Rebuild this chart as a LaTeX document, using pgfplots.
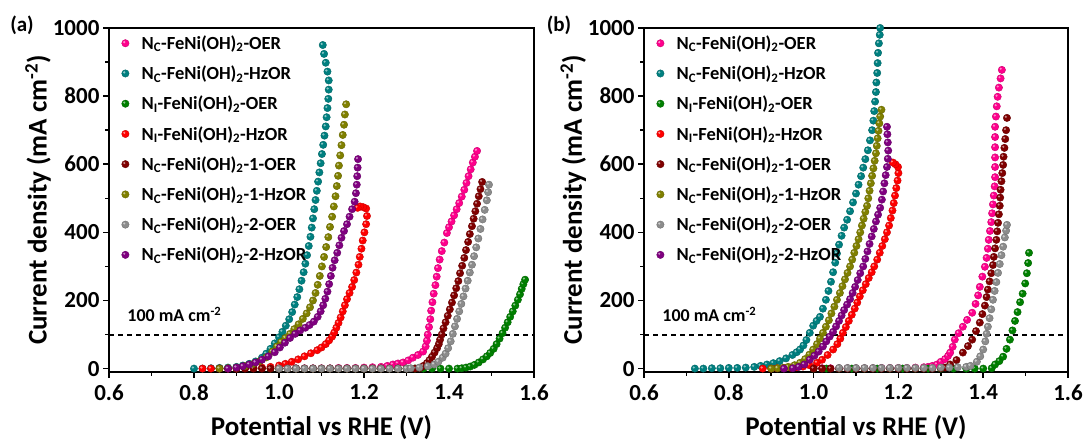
\documentclass[border=0pt]{standalone}
\usepackage{fontspec}
\setmainfont{Carlito}
\usepackage{pgfplots}
\pgfplotsset{compat=1.18}
\definecolor{cpink}{RGB}{255,0,140}
\definecolor{cteal}{RGB}{0,128,128}
\definecolor{cgreen}{RGB}{0,128,0}
\definecolor{cred}{RGB}{255,0,0}
\definecolor{cdred}{RGB}{128,0,0}
\definecolor{colive}{RGB}{128,128,0}
\definecolor{cgrey}{RGB}{140,140,140}
\definecolor{cpurple}{RGB}{128,0,128}
\pgfdeclareplotmark{sball}{%
  \pgfpathcircle{\pgfpointorigin}{\pgfplotmarksize}%
  \pgfusepathqfillstroke
  \pgfscope
  \pgfsetfillcolor{white}\pgfsetfillopacity{0.55}%
  \pgfpathcircle{\pgfpoint{-0.3\pgfplotmarksize}{0.3\pgfplotmarksize}}{0.32\pgfplotmarksize}%
  \pgfusepathqfill
  \endpgfscope
}
\newcommand\tickfont{\fontsize{23}{27}\selectfont\bfseries}
\newcommand\labfont{\fontsize{27}{32}\selectfont\bfseries}
\newcommand\legfont{\fontsize{18.5}{22}\selectfont\bfseries}
\pgfplotsset{
  myax/.style={
    scale only axis, width=425pt, height=344pt,
    xmin=0.6, xmax=1.6, ymin=-10, ymax=1000,
    xtick={0.6,0.8,1.0,1.2,1.4,1.6}, minor x tick num=1,
    ytick={0,200,400,600,800,1000}, minor y tick num=1,
    tick align=outside, xtick pos=left, ytick pos=left,
    major tick length=6pt, minor tick length=4pt,
    axis line style={line width=1.6pt},
    every tick/.style={line width=1.5pt, black},
    xticklabel style={yshift=-3pt, /pgf/number format/fixed, /pgf/number format/fixed zerofill, /pgf/number format/precision=1},
    yticklabel style={/pgf/number format/fixed, /pgf/number format/1000 sep={}},
    /pgf/number format/assume math mode=true,
    ticklabel style={font=\tickfont},
    xlabel={Potential vs RHE (V)},
    ylabel={Current density (mA cm\textsuperscript{-2})},
    label style={font=\labfont},
    xlabel style={at={(axis description cs:0.5,-0.16)}, anchor=center},
    ylabel style={at={(axis description cs:-0.167,0.5)}, anchor=center},
    legend style={at={(0.0,0.99)}, anchor=north west, xshift=9pt, draw=none, fill=none,
      font=\legfont, row sep=11pt, legend cell align=left},
    legend cell align=left,
    legend image code/.code={\draw[#1] plot coordinates {(0pt,0pt)}; \path (-4pt,0pt) (14pt,0pt);},
    every axis plot/.append style={only marks, mark=sball, mark size=3.7pt},
  },
  pk/.style={mark options={fill=cpink, draw=cpink!80!black, line width=0.4pt}},
  tl/.style={mark options={fill=cteal, draw=cteal!80!black, line width=0.4pt}},
  gn/.style={mark options={fill=cgreen, draw=cgreen!80!black, line width=0.4pt}},
  rd/.style={mark options={fill=cred, draw=cred!80!black, line width=0.4pt}},
  dr/.style={mark options={fill=cdred, draw=cdred!80!black, line width=0.4pt}},
  ol/.style={mark options={fill=colive, draw=colive!80!black, line width=0.4pt}},
  gy/.style={mark options={fill=cgrey, draw=cgrey!80!black, line width=0.4pt}},
  pu/.style={mark options={fill=cpurple, draw=cpurple!80!black, line width=0.4pt}},
  dline/.style={sharp plot, no marks, black, dash pattern=on 5pt off 4pt, line width=2pt, forget plot},
}
\begin{document}
\begin{tikzpicture}
\useasboundingbox (0,0) rectangle (1087pt,441pt);
\node[font=\fontsize{21}{25}\selectfont\bfseries] at (22pt,416pt) {(a)};
\node[font=\fontsize{21}{25}\selectfont\bfseries] at (559pt,416pt) {(b)};
% ---------------- panel (a)
\begin{axis}[myax, at={(109pt,69pt)}, anchor=south west]
\addplot[pk] coordinates {(1.02,1)(1.04,1)(1.06,1)(1.08,1)(1.10,1)(1.12,1)(1.14,2)(1.16,2)(1.18,2)(1.20,3)(1.22,4)(1.24,5)(1.255,8)(1.268,12)(1.28,15)(1.292,18)(1.304,24)(1.315,32)(1.327,40)(1.339,50)(1.345,65)(1.348,82)(1.350,100)(1.353,122)(1.356,145)(1.358,170)(1.361,195)(1.364,220)(1.368,245)(1.371,270)(1.374,295)(1.378,320)(1.383,345)(1.389,370)(1.395,398)(1.400,415)(1.406,432)(1.412,450)(1.418,468)(1.424,486)(1.430,505)(1.436,525)(1.441,545)(1.446,565)(1.451,585)(1.456,605)(1.461,622)(1.466,639)};
\addlegendentry{N\textsubscript{C}-FeNi(OH)\textsubscript{2}-OER}
\addplot[tl] coordinates {(0.80,0)(0.82,0)(0.84,1)(0.86,2)(0.88,3)(0.90,5)(0.915,9)(0.93,14)(0.945,21)(0.96,32)(0.97,44)(0.98,58)(0.99,74)(1.0,92)(1.008,108)(1.016,126)(1.024,145)(1.031,166)(1.037,188)(1.043,210)(1.048,233)(1.053,258)(1.058,283)(1.062,308)(1.066,333)(1.07,360)(1.074,387)(1.077,414)(1.080,441)(1.083,468)(1.086,495)(1.089,522)(1.092,549)(1.095,576)(1.098,603)(1.101,630)(1.104,657)(1.107,684)(1.110,711)(1.112,738)(1.114,765)(1.116,792)(1.117,819)(1.117,846)(1.114,872)(1.110,898)(1.106,924)(1.103,950)};
\addlegendentry{N\textsubscript{C}-FeNi(OH)\textsubscript{2}-HzOR}
\addplot[gn] coordinates {(0.98,0)(1.00,0)(1.02,0)(1.04,0)(1.06,0)(1.08,0)(1.10,0)(1.12,0)(1.14,0)(1.16,0)(1.18,0)(1.20,0)(1.22,0)(1.24,0)(1.26,0)(1.28,0)(1.30,0)(1.32,0)(1.34,0)(1.36,0)(1.38,0)(1.40,0)(1.42,0)(1.43,1)(1.44,3)(1.45,6)(1.46,11)(1.47,18)(1.48,27)(1.489,36)(1.497,46)(1.505,58)(1.512,72)(1.519,88)(1.526,104)(1.532,120)(1.538,136)(1.544,152)(1.550,168)(1.556,185)(1.562,202)(1.567,218)(1.571,234)(1.575,248)(1.579,261)};
\addlegendentry{N\textsubscript{I}-FeNi(OH)\textsubscript{2}-OER}
\addplot[rd] coordinates {(0.82,0)(0.84,0)(0.86,0)(0.88,0)(0.90,0)(0.92,1)(0.94,2)(0.96,3)(0.98,5)(1.0,9)(1.015,14)(1.03,20)(1.045,27)(1.06,36)(1.075,45)(1.09,54)(1.10,62)(1.11,72)(1.118,83)(1.125,94)(1.13,106)(1.135,120)(1.14,134)(1.145,150)(1.15,168)(1.155,186)(1.16,204)(1.166,222)(1.172,240)(1.177,260)(1.182,282)(1.187,305)(1.19,328)(1.194,352)(1.197,376)(1.201,400)(1.205,424)(1.207,448)(1.205,470)(1.198,474)(1.191,476)(1.185,472)};
\addlegendentry{N\textsubscript{I}-FeNi(OH)\textsubscript{2}-HzOR}
\addplot[dr] coordinates {(0.86,0)(0.88,0)(0.90,0)(0.92,0)(0.94,0)(0.96,0)(0.98,0)(1.00,0)(1.02,0)(1.04,0)(1.06,0)(1.08,0)(1.10,0)(1.12,0)(1.14,0)(1.16,0)(1.18,0)(1.20,0)(1.22,0)(1.24,0)(1.26,0)(1.28,0)(1.30,0)(1.32,0)(1.332,2)(1.34,8)(1.348,16)(1.354,25)(1.36,35)(1.366,47)(1.372,60)(1.376,72)(1.379,85)(1.383,100)(1.387,118)(1.392,136)(1.397,155)(1.402,174)(1.407,194)(1.412,215)(1.417,236)(1.422,257)(1.426,280)(1.431,302)(1.436,325)(1.440,348)(1.445,372)(1.449,395)(1.454,418)(1.458,440)(1.462,462)(1.466,484)(1.470,506)(1.474,527)(1.478,548)};
\addlegendentry{N\textsubscript{C}-FeNi(OH)\textsubscript{2}-1-OER}
\addplot[ol] coordinates {(0.86,0)(0.88,1)(0.90,3)(0.92,7)(0.94,14)(0.955,22)(0.97,33)(0.984,50)(0.995,65)(1.005,78)(1.015,90)(1.026,102)(1.036,116)(1.046,130)(1.056,146)(1.065,162)(1.073,180)(1.08,200)(1.086,222)(1.091,246)(1.096,272)(1.101,300)(1.106,328)(1.111,357)(1.116,386)(1.120,416)(1.125,446)(1.129,476)(1.133,506)(1.136,536)(1.139,566)(1.141,596)(1.144,626)(1.147,656)(1.150,686)(1.153,716)(1.155,746)(1.158,776)};
\addlegendentry{N\textsubscript{C}-FeNi(OH)\textsubscript{2}-1-HzOR}
\addplot[gy] coordinates {(1.00,0)(1.02,0)(1.04,0)(1.06,0)(1.08,0)(1.10,0)(1.12,0)(1.14,0)(1.16,0)(1.18,0)(1.20,0)(1.22,0)(1.24,0)(1.26,0)(1.28,0)(1.30,0)(1.31,1)(1.33,3)(1.35,7)(1.365,12)(1.375,20)(1.385,32)(1.392,44)(1.398,60)(1.404,80)(1.409,102)(1.414,124)(1.419,146)(1.424,168)(1.429,190)(1.434,212)(1.439,235)(1.444,258)(1.449,282)(1.454,305)(1.459,330)(1.464,356)(1.469,382)(1.474,410)(1.479,438)(1.484,466)(1.489,494)(1.492,518)(1.494,540)};
\addlegendentry{N\textsubscript{C}-FeNi(OH)\textsubscript{2}-2-OER}
\addplot[pu] coordinates {(0.88,0)(0.90,3)(0.915,7)(0.93,12)(0.945,18)(0.96,26)(0.975,36)(0.99,48)(1.002,62)(1.014,76)(1.026,90)(1.038,102)(1.05,112)(1.062,120)(1.072,128)(1.082,138)(1.091,152)(1.098,168)(1.104,186)(1.109,205)(1.114,226)(1.118,248)(1.122,272)(1.126,296)(1.131,318)(1.137,340)(1.142,362)(1.147,384)(1.153,404)(1.160,424)(1.166,446)(1.172,468)(1.178,490)(1.181,515)(1.183,540)(1.184,565)(1.185,590)(1.186,615)};
\addlegendentry{N\textsubscript{C}-FeNi(OH)\textsubscript{2}-2-HzOR}
\addplot[dline] coordinates {(0.6,100)(1.6,100)};
\node[anchor=west, font=\fontsize{18}{22}\selectfont\bfseries] at (axis cs:0.635,158) {100 mA cm\textsuperscript{-2}};
\end{axis}
% ---------------- panel (b)
\begin{axis}[myax, at={(644pt,69pt)}, anchor=south west, width=424pt]
\addplot[pk] coordinates {(1.00,1)(1.02,1)(1.04,1)(1.06,1)(1.08,1)(1.10,1)(1.12,1)(1.14,1)(1.16,2)(1.18,2)(1.20,2)(1.22,2)(1.24,3)(1.26,4)(1.27,5)(1.28,8)(1.291,12)(1.30,20)(1.31,28)(1.317,37)(1.322,47)(1.328,64)(1.333,85)(1.342,104)(1.352,123)(1.362,143)(1.374,164)(1.382,190)(1.388,215)(1.392,240)(1.398,270)(1.404,299)(1.408,325)(1.411,352)(1.413,378)(1.416,404)(1.419,430)(1.421,456)(1.423,482)(1.425,508)(1.427,535)(1.428,562)(1.428,592)(1.428,620)(1.428,650)(1.428,680)(1.428,710)(1.430,740)(1.432,770)(1.434,798)(1.437,825)(1.441,852)(1.444,877)};
\addlegendentry{N\textsubscript{C}-FeNi(OH)\textsubscript{2}-OER}
\addplot[tl] coordinates {(0.72,0)(0.74,0)(0.76,1)(0.78,1)(0.80,2)(0.82,2)(0.84,3)(0.86,5)(0.875,8)(0.89,12)(0.905,16)(0.92,22)(0.935,30)(0.95,40)(0.96,48)(0.968,56)(0.976,68)(0.983,84)(0.991,105)(0.999,126)(1.007,140)(1.015,152)(1.022,176)(1.029,202)(1.035,228)(1.041,255)(1.046,283)(1.051,311)(1.055,338)(1.060,364)(1.066,390)(1.072,414)(1.079,437)(1.086,462)(1.093,488)(1.100,514)(1.106,540)(1.112,565)(1.117,590)(1.122,615)(1.128,641)(1.133,670)(1.138,700)(1.141,728)(1.143,756)(1.145,784)(1.147,812)(1.148,840)(1.150,868)(1.151,897)(1.152,927)(1.154,955)(1.156,980)(1.157,1000)};
\addlegendentry{N\textsubscript{C}-FeNi(OH)\textsubscript{2}-HzOR}
\addplot[gn] coordinates {(1.00,0)(1.03,0)(1.06,0)(1.09,0)(1.12,0)(1.15,0)(1.18,0)(1.21,0)(1.24,0)(1.27,0)(1.30,0)(1.33,0)(1.36,0)(1.38,0)(1.40,0)(1.42,1)(1.428,12)(1.438,22)(1.447,35)(1.455,58)(1.463,85)(1.469,112)(1.475,140)(1.481,166)(1.487,195)(1.493,220)(1.499,250)(1.503,280)(1.506,310)(1.508,340)};
\addlegendentry{N\textsubscript{I}-FeNi(OH)\textsubscript{2}-OER}
\addplot[rd] coordinates {(0.88,0)(0.90,0)(0.914,1)(0.93,2)(0.945,3)(0.96,4)(0.975,6)(0.99,10)(1.008,17)(1.02,26)(1.033,40)(1.046,56)(1.056,72)(1.063,88)(1.069,105)(1.076,122)(1.083,140)(1.090,158)(1.097,176)(1.103,194)(1.109,212)(1.116,230)(1.123,248)(1.130,266)(1.137,283)(1.143,300)(1.150,320)(1.156,340)(1.162,360)(1.168,380)(1.173,400)(1.178,420)(1.182,442)(1.186,464)(1.189,486)(1.192,508)(1.195,530)(1.198,552)(1.2,574)(1.199,592)(1.193,600)(1.187,605)};
\addlegendentry{N\textsubscript{I}-FeNi(OH)\textsubscript{2}-HzOR}
\addplot[dr] coordinates {(1.00,0)(1.02,0)(1.04,0)(1.06,0)(1.08,0)(1.10,0)(1.12,0)(1.14,0)(1.16,0)(1.18,0)(1.20,0)(1.22,0)(1.24,0)(1.26,0)(1.28,0)(1.30,1)(1.31,3)(1.322,12)(1.337,25)(1.352,47)(1.364,66)(1.374,85)(1.383,110)(1.392,135)(1.398,160)(1.404,185)(1.408,210)(1.411,232)(1.415,256)(1.419,280)(1.423,304)(1.425,328)(1.428,353)(1.431,378)(1.433,403)(1.435,428)(1.437,453)(1.439,478)(1.440,502)(1.441,525)(1.443,550)(1.445,574)(1.447,598)(1.448,622)(1.450,648)(1.452,674)(1.454,700)(1.456,736)};
\addlegendentry{N\textsubscript{C}-FeNi(OH)\textsubscript{2}-1-OER}
\addplot[ol] coordinates {(0.90,0)(0.915,1)(0.928,2)(0.94,5)(0.955,10)(0.968,17)(0.98,28)(0.99,41)(0.999,56)(1.008,72)(1.015,88)(1.022,105)(1.029,123)(1.036,142)(1.042,162)(1.049,182)(1.055,202)(1.062,222)(1.068,242)(1.074,262)(1.080,281)(1.086,300)(1.091,320)(1.096,340)(1.101,360)(1.106,380)(1.110,400)(1.114,420)(1.118,440)(1.122,460)(1.126,478)(1.129,500)(1.132,522)(1.135,544)(1.138,566)(1.141,588)(1.144,610)(1.147,632)(1.149,654)(1.151,676)(1.153,698)(1.155,720)(1.157,740)(1.160,760)};
\addlegendentry{N\textsubscript{C}-FeNi(OH)\textsubscript{2}-1-HzOR}
\addplot[gy] coordinates {(1.06,2)(1.08,2)(1.10,2)(1.12,2)(1.14,2)(1.16,2)(1.18,2)(1.20,2)(1.22,2)(1.24,2)(1.26,2)(1.28,2)(1.30,3)(1.32,3)(1.34,4)(1.36,5)(1.37,8)(1.385,20)(1.393,36)(1.4,56)(1.405,80)(1.408,102)(1.411,123)(1.415,148)(1.419,174)(1.423,202)(1.427,228)(1.431,254)(1.435,281)(1.439,307)(1.443,333)(1.447,358)(1.451,385)(1.454,405)(1.456,422)};
\addlegendentry{N\textsubscript{C}-FeNi(OH)\textsubscript{2}-2-OER}
\addplot[pu] coordinates {(0.93,0)(0.951,1)(0.965,5)(0.978,12)(0.991,26)(1.002,38)(1.012,50)(1.022,65)(1.030,80)(1.038,94)(1.046,108)(1.053,124)(1.060,140)(1.066,156)(1.072,172)(1.079,188)(1.086,204)(1.092,222)(1.098,240)(1.104,260)(1.110,280)(1.117,300)(1.122,322)(1.127,344)(1.132,366)(1.137,388)(1.142,410)(1.147,432)(1.152,452)(1.157,472)(1.161,496)(1.164,520)(1.167,544)(1.170,568)(1.173,592)(1.175,616)(1.176,640)(1.175,664)(1.174,688)(1.173,710)};
\addlegendentry{N\textsubscript{C}-FeNi(OH)\textsubscript{2}-2-HzOR}
\addplot[dline] coordinates {(0.6,100)(1.6,100)};
\node[anchor=west, font=\fontsize{18}{22}\selectfont\bfseries] at (axis cs:0.635,158) {100 mA cm\textsuperscript{-2}};
\end{axis}
\end{tikzpicture}
\end{document}
